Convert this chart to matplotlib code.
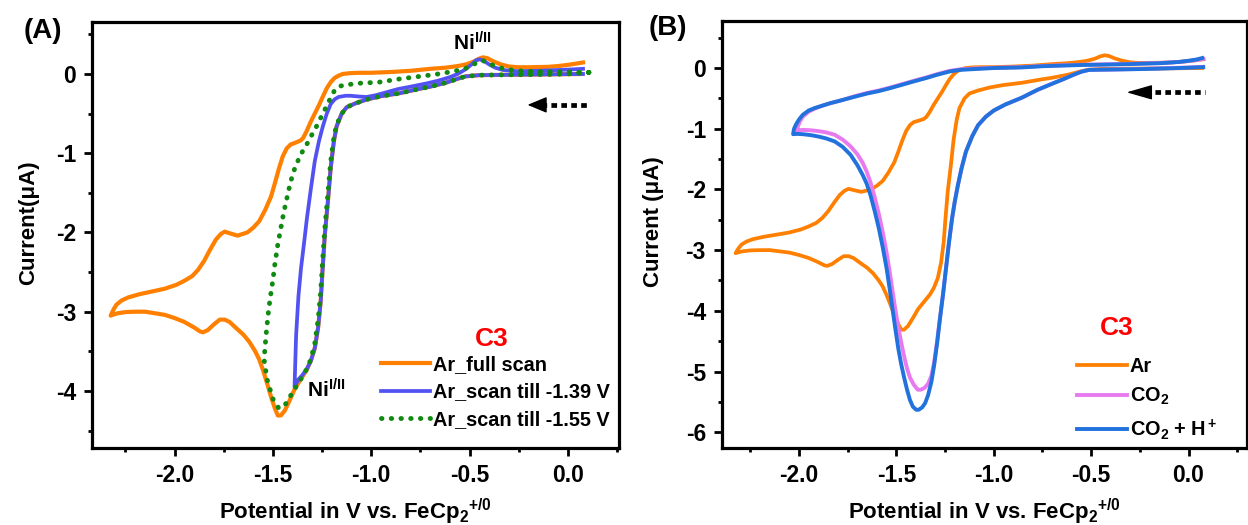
import numpy as np
import matplotlib.pyplot as plt
from matplotlib.ticker import MultipleLocator, FormatStrFormatter

plt.rcParams['font.family'] = ['Liberation Sans', 'DejaVu Sans']
plt.rcParams['font.weight'] = 'bold'
plt.rcParams['axes.labelweight'] = 'bold'
plt.rcParams['mathtext.fontset'] = 'custom'
plt.rcParams['mathtext.rm'] = 'Liberation Sans:bold'
plt.rcParams['mathtext.bf'] = 'Liberation Sans:bold'
plt.rcParams['mathtext.it'] = 'Liberation Sans:bold'
plt.rcParams['mathtext.default'] = 'bf'
plt.rcParams['axes.unicode_minus'] = False

# ---- data (potential in V, current in uA), in scan order ----
ar_full_v = [0.07, -0.1, -0.3, -0.45, -0.52, -0.56, -0.62, -0.7, -0.76, -0.86, -0.95, -1.02, -1.08,
             -1.125, -1.15, -1.176, -1.19, -1.206, -1.22, -1.236, -1.247, -1.257, -1.27, -1.287,
             -1.307, -1.327, -1.35, -1.388, -1.415, -1.44, -1.46, -1.475, -1.49, -1.51, -1.53,
             -1.55, -1.57, -1.59, -1.62, -1.65, -1.69, -1.72, -1.745, -1.77, -1.80, -1.83, -1.855,
             -1.87, -1.9, -1.95, -2.0, -2.05, -2.1, -2.15, -2.2, -2.25, -2.29, -2.315, -2.325,
             -2.31, -2.295, -2.27, -2.236, -2.18, -2.115, -2.05, -1.99, -1.95, -1.91, -1.88, -1.85,
             -1.82, -1.79, -1.765, -1.745, -1.72, -1.68, -1.63, -1.6, -1.57, -1.54, -1.51, -1.49,
             -1.47, -1.45, -1.43, -1.41, -1.388, -1.36, -1.347, -1.33, -1.307, -1.287, -1.267,
             -1.247, -1.226, -1.205, -1.186, -1.165, -1.145, -1.11, -1.065, -1.0, -0.9, -0.8, -0.7,
             -0.62, -0.56, -0.52, -0.48, -0.455, -0.432, -0.41, -0.38, -0.34, -0.3, -0.257, -0.2,
             -0.1, -0.05, 0.0, 0.04, 0.077]
ar_full_i = [0.0, -0.005, -0.01, -0.015, -0.03, -0.06, -0.11, -0.16, -0.19, -0.245, -0.28, -0.32, -0.37,
             -0.42, -0.5, -0.66, -0.85, -1.18, -1.6, -2.03, -2.45, -2.87, -3.2, -3.46,
             -3.62, -3.73, -3.82, -3.97, -4.12, -4.25, -4.31, -4.31, -4.22, -4.07, -3.9,
             -3.74, -3.6, -3.5, -3.38, -3.29, -3.2, -3.13, -3.1, -3.1, -3.16, -3.23, -3.26,
             -3.25, -3.2, -3.13, -3.08, -3.04, -3.02, -3.0, -3.0, -3.005, -3.02, -3.04, -3.05,
             -2.97, -2.91, -2.86, -2.82, -2.78, -2.745, -2.71, -2.66, -2.61, -2.55, -2.47, -2.36,
             -2.22, -2.09, -2.02, -1.99, -2.01, -2.04, -2.0, -1.94, -1.86, -1.72, -1.55, -1.38,
             -1.2, -1.04, -0.94, -0.89, -0.87, -0.84, -0.81, -0.73, -0.6, -0.5, -0.4,
             -0.29, -0.18, -0.1, -0.05, -0.02, 0.0, 0.01, 0.015, 0.015, 0.025, 0.04, 0.065,
             0.08, 0.1, 0.12, 0.155, 0.19, 0.21, 0.2, 0.16, 0.12, 0.095, 0.085, 0.085,
             0.09, 0.1, 0.115, 0.13, 0.145]

ar_139_v = [0.077, -0.1, -0.3, -0.45, -0.52, -0.56, -0.62, -0.7, -0.76, -0.86, -0.95, -1.02, -1.08,
            -1.125, -1.15, -1.176, -1.19, -1.206, -1.22, -1.236, -1.247, -1.257, -1.27, -1.287,
            -1.307, -1.327, -1.35, -1.372, -1.39,
            -1.382, -1.37, -1.357, -1.34, -1.327, -1.307, -1.287, -1.266, -1.246, -1.226, -1.206,
            -1.186, -1.166, -1.13, -1.105, -1.06, -1.024, -0.98, -0.943, -0.9, -0.863, -0.8, -0.72,
            -0.66, -0.6, -0.56, -0.52, -0.49, -0.469, -0.45, -0.43, -0.4, -0.37, -0.33, -0.257,
            -0.15, 0.0, 0.077]
ar_139_i = [0.0, -0.005, -0.01, -0.015, -0.03, -0.06, -0.11, -0.16, -0.19, -0.245, -0.28, -0.32, -0.37,
            -0.42, -0.5, -0.66, -0.85, -1.18, -1.6, -2.03, -2.45, -2.87, -3.2, -3.46,
            -3.62, -3.72, -3.8, -3.86, -3.95,
            -3.3, -2.8, -2.45, -2.1, -1.82, -1.45, -1.1, -0.85, -0.66, -0.5, -0.38,
            -0.32, -0.29, -0.275, -0.275, -0.285, -0.29, -0.27, -0.245, -0.215, -0.19, -0.16, -0.12,
            -0.085, -0.04, 0.0, 0.06, 0.12, 0.17, 0.185, 0.17, 0.12, 0.08, 0.05, 0.035,
            0.04, 0.055, 0.065]

ar_155_v = [0.107, 0.0, -0.1, -0.3, -0.45, -0.52, -0.56, -0.62, -0.7, -0.76, -0.86, -0.95, -1.02,
            -1.08, -1.125, -1.15, -1.176, -1.19, -1.206, -1.22, -1.236, -1.247, -1.257, -1.27,
            -1.287, -1.307, -1.327, -1.35, -1.388, -1.41, -1.43, -1.45, -1.47, -1.5, -1.53, -1.545,
            -1.535, -1.525, -1.515, -1.5, -1.49, -1.475, -1.46, -1.445, -1.43, -1.41, -1.39, -1.37,
            -1.35, -1.33, -1.31, -1.29, -1.27, -1.25, -1.23, -1.216, -1.2, -1.185, -1.166, -1.14,
            -1.105, -1.05, -0.964, -0.9, -0.863, -0.8, -0.72, -0.66, -0.6, -0.55, -0.51, -0.48,
            -0.455, -0.44, -0.42, -0.39, -0.357, -0.3, -0.257, -0.15, 0.0, 0.107]
ar_155_i = [0.02, 0.0, -0.005, -0.01, -0.015, -0.03, -0.06, -0.11, -0.16, -0.19, -0.245, -0.28, -0.32,
            -0.37, -0.42, -0.5, -0.64, -0.8, -1.1, -1.5, -1.95, -2.35, -2.75, -3.1,
            -3.4, -3.6, -3.72, -3.82, -3.97, -4.06, -4.15, -4.2, -4.22, -4.1, -3.85, -3.6,
            -3.3, -3.05, -2.85, -2.6, -2.4, -2.15, -1.95, -1.75, -1.58, -1.36, -1.2, -1.08,
            -0.98, -0.9, -0.8, -0.72, -0.62, -0.52, -0.42, -0.35, -0.27, -0.2, -0.16, -0.14,
            -0.13, -0.115, -0.105, -0.08, -0.065, -0.045, -0.02, 0.0, 0.025, 0.05, 0.08, 0.12,
            0.155, 0.17, 0.16, 0.12, 0.085, 0.055, 0.04, 0.03, 0.025, 0.02]

co2_h_v = [0.075, 0.0, -0.1, -0.245, -0.4, -0.51, -0.55, -0.59, -0.64, -0.694, -0.776, -0.857, -0.94,
           -1.0, -1.04, -1.08, -1.11, -1.143, -1.165, -1.184, -1.2, -1.214, -1.23, -1.245, -1.26,
           -1.276, -1.29, -1.306, -1.32, -1.337, -1.352, -1.367, -1.385, -1.398, -1.415, -1.43,
           -1.445, -1.46, -1.475, -1.49, -1.505, -1.52, -1.535, -1.55, -1.57, -1.59, -1.61, -1.633,
           -1.653, -1.673, -1.7, -1.735, -1.775, -1.816, -1.86, -1.898, -1.94, -1.98, -2.01, -2.03,
           -2.025, -2.015, -2.0, -1.98, -1.95, -1.92, -1.88, -1.84, -1.78, -1.71, -1.65, -1.59,
           -1.53, -1.47, -1.41, -1.347, -1.29, -1.224, -1.17, -1.1, -1.0, -0.857, -0.75, -0.653,
           -0.55, -0.449, -0.3, -0.143, -0.05, 0.0, 0.04, 0.07]
co2_h_i = [0.015, 0.005, -0.005, -0.017, -0.025, -0.03, -0.06, -0.11, -0.18, -0.25, -0.36, -0.49, -0.6,
           -0.7, -0.8, -0.94, -1.12, -1.38, -1.65, -1.93, -2.2, -2.48, -2.88, -3.3, -3.72,
           -4.13, -4.52, -4.9, -5.17, -5.39, -5.52, -5.59, -5.63, -5.63, -5.58, -5.47,
           -5.3, -5.1, -4.88, -4.62, -4.3, -3.96, -3.62, -3.3, -2.95, -2.64, -2.37, -2.09,
           -1.9, -1.76, -1.6, -1.43, -1.3, -1.21, -1.16, -1.13, -1.105, -1.09, -1.085, -1.09,
           -1.0, -0.93, -0.85, -0.77, -0.7, -0.66, -0.62, -0.58, -0.53, -0.47, -0.42, -0.38,
           -0.33, -0.275, -0.22, -0.165, -0.11, -0.055, -0.03, -0.017, 0.0, 0.01, 0.03, 0.04,
           0.05, 0.055, 0.065, 0.08, 0.1, 0.12, 0.14, 0.165]

co2_v = [0.075, 0.0, -0.1, -0.245, -0.4, -0.51, -0.55, -0.59, -0.64, -0.694, -0.776, -0.857, -0.94,
         -1.0, -1.04, -1.08, -1.11, -1.143, -1.165, -1.184, -1.2, -1.214, -1.23, -1.245, -1.26,
         -1.276, -1.29, -1.306, -1.32, -1.337, -1.355, -1.375, -1.39, -1.41, -1.43,
         -1.445, -1.46, -1.475, -1.49, -1.505, -1.52, -1.535, -1.55, -1.57, -1.59, -1.61, -1.633,
         -1.653, -1.673, -1.7, -1.735, -1.775, -1.816, -1.86, -1.898, -1.94, -1.98, -2.0, -2.01,
         -2.005, -1.995, -1.98, -1.95, -1.92, -1.88, -1.84, -1.78, -1.71, -1.65, -1.59,
         -1.53, -1.47, -1.41, -1.347, -1.29, -1.224, -1.17, -1.1, -1.0, -0.857, -0.75, -0.653,
         -0.55, -0.449, -0.3, -0.143, -0.05, 0.0, 0.04, 0.075]
co2_i = [0.02, 0.01, -0.0, -0.015, -0.025, -0.03, -0.06, -0.11, -0.18, -0.25, -0.36, -0.49, -0.6,
         -0.7, -0.8, -0.94, -1.12, -1.38, -1.65, -1.93, -2.2, -2.48, -2.88, -3.3, -3.72,
         -4.12, -4.48, -4.85, -5.07, -5.2, -5.27, -5.3, -5.3, -5.22, -5.1,
         -4.95, -4.75, -4.52, -4.27, -3.98, -3.66, -3.34, -3.04, -2.7, -2.4, -2.14, -1.88,
         -1.7, -1.56, -1.42, -1.29, -1.18, -1.1, -1.06, -1.04, -1.025, -1.02, -1.025, -1.04,
         -0.96, -0.88, -0.8, -0.72, -0.67, -0.62, -0.58, -0.53, -0.46, -0.41, -0.37,
         -0.32, -0.265, -0.21, -0.155, -0.1, -0.045, -0.02, -0.007, 0.005, 0.015, 0.035, 0.045,
         0.055, 0.06, 0.07, 0.085, 0.1, 0.115, 0.13, 0.15]

labels_a = ['Ar_full scan', 'Ar_scan till -1.39 V', 'Ar_scan till -1.55 V']
labels_b = ['Ar', r'CO$_2$', r'CO$_2$ + H$^+$']

orange = '#FF8000'
blue_a = '#5252F2'
green = '#118A11'
violet = '#E87AF0'
blue_b = '#2272DE'


def style_axes(ax, ylo, yhi, xlo, xhi):
    for s in ax.spines.values():
        s.set_linewidth(2.3)
    ax.set_xlim(xlo, xhi)
    ax.set_ylim(ylo, yhi)
    ax.xaxis.set_major_locator(MultipleLocator(0.5))
    ax.xaxis.set_minor_locator(MultipleLocator(0.25))
    ax.yaxis.set_major_locator(MultipleLocator(1))
    ax.yaxis.set_minor_locator(MultipleLocator(0.5))
    ax.xaxis.set_major_formatter(FormatStrFormatter('%.1f'))
    ax.yaxis.set_major_formatter(FormatStrFormatter('%d'))
    ax.tick_params(which='major', direction='out', length=5.5, width=2, labelsize=16.5, pad=6)
    ax.tick_params(which='minor', direction='out', length=3, width=2)
    ax.set_xlabel(r'Potential in V vs. FeCp$_2$$^{+/0}$', fontsize=16)


def dotted_arrow(ax, x_head, x_tail, y, head_len, hl, hw):
    # dotted shaft
    ax.plot([x_head + head_len * 0.8, x_tail], [y, y], color='black', lw=3.4,
            linestyle=(0, (1.2, 0.9)), dash_capstyle='butt', zorder=6)
    # solid head
    ax.annotate('', xy=(x_head, y), xytext=(x_head + head_len, y),
                arrowprops=dict(arrowstyle=f'-|>,head_length={hl},head_width={hw}', lw=1,
                                color='black', shrinkA=0, shrinkB=0, mutation_scale=20),
                zorder=6)


fig = plt.figure(figsize=(12.48, 5.25), dpi=100)

# ---- panel A ----
ax1 = fig.add_axes([0.0737, 0.1467, 0.4223, 0.8114])
ax1.plot(ar_full_v, ar_full_i, color=orange, lw=3, label=labels_a[0], zorder=3)
ax1.plot(ar_139_v, ar_139_i, color=blue_a, lw=2.7, label=labels_a[1], zorder=4)
ax1.plot(ar_155_v, ar_155_i, color=green, lw=3.5, linestyle=(0, (0.1, 1.9)),
         dash_capstyle='round', label=labels_a[2], zorder=5)
style_axes(ax1, -4.72, 0.656, -2.42, 0.26)
ax1.set_ylabel('Current(μA)', fontsize=16)
ax1.yaxis.set_label_coords(-0.1, 0.53)
ax1.xaxis.set_label_coords(0.5, -0.115)
leg1 = ax1.legend(loc='lower left', bbox_to_anchor=(0.548, 0.045), frameon=False, fontsize=14.3,
                  handlelength=2.5, handletextpad=0.15, labelspacing=0.42, borderpad=0,
                  borderaxespad=0)
ax1.text(0.759, 0.256, 'C3', color='red', fontsize=19, ha='center', va='center',
         transform=ax1.transAxes)
ax1.text(-0.585, 0.30, r'Ni$^{I/II}$', fontsize=15, ha='left', va='baseline')
ax1.text(-1.328, -4.08, r'Ni$^{I/II}$', fontsize=15, ha='left', va='baseline')
dotted_arrow(ax1, -0.205, 0.097, -0.39, 0.087, 0.6, 0.25)

# ---- panel B ----
ax2 = fig.add_axes([0.5785, 0.1467, 0.4207, 0.8133])
ax2.plot(ar_full_v, ar_full_i, color=orange, lw=2.7, label=labels_b[0], zorder=3)
ax2.plot(co2_v, co2_i, color=violet, lw=2.8, label=labels_b[1], zorder=4)
ax2.plot(co2_h_v, co2_h_i, color=blue_b, lw=2.8, label=labels_b[2], zorder=5)
style_axes(ax2, -6.26, 0.775, -2.395, 0.3)
ax2.set_ylabel('Current (μA)', fontsize=16)
ax2.yaxis.set_label_coords(-0.11, 0.53)
ax2.xaxis.set_label_coords(0.5, -0.115)
leg2 = ax2.legend(loc='lower left', bbox_to_anchor=(0.676, 0.015), frameon=False, fontsize=14.3,
                  handlelength=2.5, handletextpad=0.15, labelspacing=0.5, borderpad=0,
                  borderaxespad=0)
ax2.text(0.752, 0.282, 'C3', color='red', fontsize=19, ha='center', va='center',
         transform=ax2.transAxes)
dotted_arrow(ax2, -0.318, 0.082, -0.40, 0.118, 0.8, 0.23)

fig.text(0.0345, 0.941, '(A)', fontsize=20, ha='center', va='center')
fig.text(0.535, 0.946, '(B)', fontsize=20, ha='center', va='center')

fig.savefig('out.png', dpi=100)
